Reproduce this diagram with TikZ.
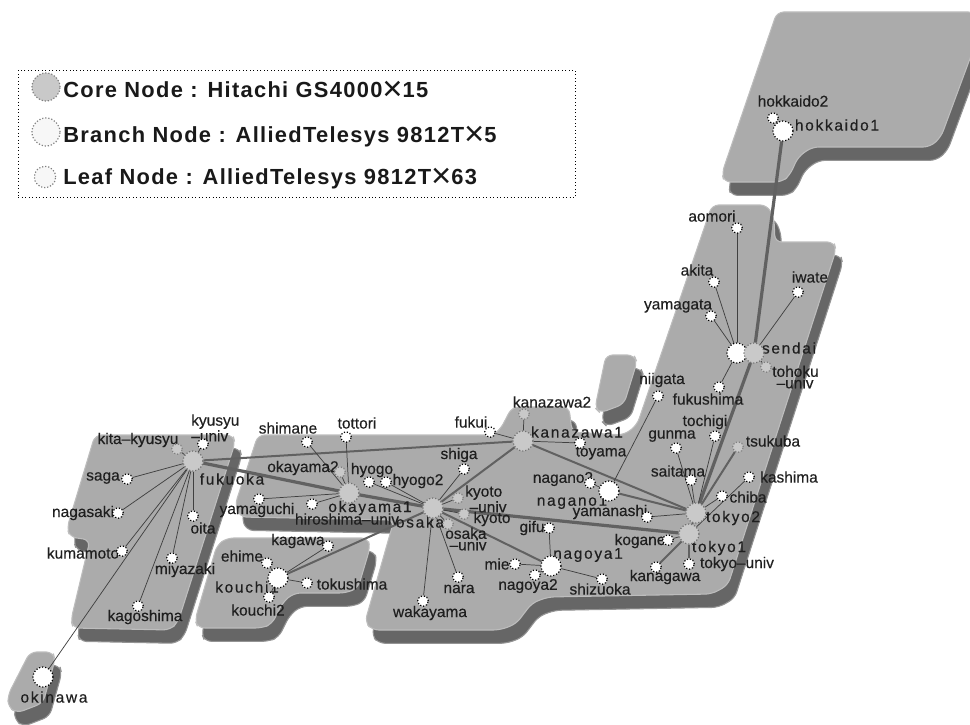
\documentclass[tikz,border=0pt]{standalone}
\usepackage{fontspec}
\setmainfont{Liberation Sans}
\newfontfamily\labfont[FakeBold=0.35]{Liberation Sans}
\newfontfamily\widefont[LetterSpace=11,FakeBold=0.35]{Liberation Sans}
\newfontfamily\legfont[LetterSpace=6]{Liberation Sans}
\newfontfamily\timesfont{Liberation Sans}
\pgfdeclarelayer{maplayer}
\pgfdeclarelayer{linklayer}
\pgfdeclarelayer{lablayer}
\pgfsetlayers{maplayer,linklayer,lablayer,main}
\definecolor{land}{gray}{0.67}
\definecolor{landedge}{gray}{0.74}
\definecolor{shade}{gray}{0.40}
\definecolor{linkc}{gray}{0.38}
\definecolor{corec}{gray}{0.79}
\newcommand{\bigtimes}{\raisebox{-2.6pt}[0pt][0pt]{\timesfont\mdseries\fontsize{26}{18}\selectfont ×}}
\tikzset{
  landp/.style={fill=land,draw=landedge,line width=0.8pt,rounded corners=5pt},
  shadep/.style={fill=shade,draw=shade!70!white,line width=0.8pt,rounded corners=5pt,xshift=5pt,yshift=-10pt},
  dotb/.style={draw=black,line width=0.9pt,dash pattern=on 0.9pt off 1.4pt,inner sep=0pt,circle},
  leafn/.style={dotb,fill=white,minimum size=8pt},
  gleafn/.style={dotb,draw=gray,fill=corec,minimum size=8pt},
  branchn/.style={dotb,fill=white,minimum size=15pt},
  coren/.style={dotb,draw=black!55,fill=corec,minimum size=15pt},
  lab/.style={font=\labfont\fontsize{11.6}{8.6}\selectfont,text=black!88,inner sep=0pt,align=left},
  wlab/.style={font=\widefont\fontsize{11.6}{8.6}\selectfont,text=black!88,inner sep=0pt},
  thinl/.style={draw=black!75,line width=0.55pt},
  medl/.style={draw=linkc,line width=1.5pt},
  thickl/.style={draw=linkc,line width=2.4pt},
  legt/.style={font=\legfont\bfseries\fontsize{16.4}{18}\selectfont,text=black!90,inner sep=0pt,anchor=base west},
}
\begin{document}
\begin{tikzpicture}[x=0.75pt,y=-0.75pt]
\useasboundingbox (0,0) rectangle (970,724);

% ---------- map
\begin{pgfonlayer}{maplayer}
\def\hokkaidoshape{(777,12) -- (975,12) -- (975,45) -- (941,137) -- (930,147) -- (812,147) -- (798,157) -- (790,175) -- (782,182) -- (724,182) -- (722,173) -- cycle}
\def\honshushape{(712,205) -- (767,205) -- (774,218) -- (775,242) -- (834,242) -- (836,250) -- (728,585) -- (712,594) -- (548,597) -- (532,603) -- (516,624) -- (500,630) -- (372,630) -- (365,622) -- (394,520) -- (240,517) -- (235,505) -- (258,435) -- (492,435) -- (500,430) -- (512,407) -- (569,407) -- (572,432) -- (624,435) -- (637,425) -- cycle}
\def\sadoshape{(606,355) -- (634,355) -- (637,362) -- (624,404) -- (600,413) -- (595,408) -- cycle}
\def\kyushushape{(95,435) -- (233,435) -- (235,443) -- (178,622) -- (170,630) -- (73,628) -- (71,620) -- (90,540) -- (70,537) -- (67,528) -- cycle}
\def\shikokushape{(227,538) -- (368,538) -- (370,548) -- (358,588) -- (346,593) -- (294,593) -- (283,602) -- (272,624) -- (262,628) -- (198,628) -- (195,620) -- (217,545) -- cycle}
\def\okinawashape{(30,652) -- (53,652) -- (55,660) -- (43,703) -- (17,713) -- (8,707) -- (8,695) -- cycle}
\foreach \s in {\hokkaidoshape,\honshushape,\sadoshape,\kyushushape,\shikokushape,\okinawashape}{
  \draw[shadep] \s;
}
\foreach \s in {\hokkaidoshape,\honshushape,\sadoshape,\kyushushape,\shikokushape,\okinawashape}{
  \draw[landp] \s;
}
\end{pgfonlayer}

% ---------- legend
\node[draw=black,line width=0.6pt,dotted,minimum width=417.75pt,minimum height=95.25pt,inner sep=0pt,anchor=north west] (legendbox) at (18,70) {};
\node[dotb,draw=gray,fill=corec,minimum size=21pt] (legcore) at (46,87) {};
\node[dotb,draw=gray,fill=black!3,minimum size=21pt] (legbranch) at (46,132) {};
\node[dotb,draw=gray,fill=black!3,minimum size=16pt] (legleaf) at (45,177) {};
\node[legt] (legt1) at (63,97) {Core Node : Hitachi GS4000\bigtimes15};
\node[legt] (legt2) at (63,142) {Branch Node : AlliedTelesys 9812T\bigtimes5};
\node[legt] (legt3) at (63,184) {Leaf Node : AlliedTelesys 9812T\bigtimes63};

% ---------- nodes
\node[branchn] (hokkaido1) at (783,131) {};
\node[leafn] (hokkaido2) at (773,118) {};
\node[leafn] (aomori) at (737,228) {};
\node[leafn] (akita) at (714,282) {};
\node[leafn] (yamagata) at (711,316) {};
\node[leafn] (iwate) at (798,292) {};
\node[branchn] (sendaib) at (737,353) {};
\node[coren] (sendai) at (754,353) {};
\node[gleafn] (tohoku) at (766,367) {};
\node[leafn] (fukushima) at (719,387) {};
\node[leafn] (niigata) at (658,396) {};
\node[leafn] (tochigi) at (715,436) {};
\node[leafn] (gunma) at (676,448) {};
\node[gleafn] (tsukuba) at (738,447) {};
\node[leafn] (saitama) at (691,480) {};
\node[leafn] (kashima) at (749,477) {};
\node[leafn] (chiba) at (722,496) {};
\node[coren] (tokyo2) at (696,513) {};
\node[coren] (tokyo1) at (689,534) {};
\node[leafn] (yamanashi) at (647,517) {};
\node[branchn] (nagano1) at (609,491) {};
\node[leafn] (nagano2) at (590,483) {};
\node[leafn] (kogane) at (668,540) {};
\node[leafn] (kanagawa) at (656,567) {};
\node[leafn] (tokyou) at (689,564) {};
\node[leafn] (shizuoka) at (602,579) {};
\node[gleafn] (kanazawa2) at (524,414) {};
\node[leafn] (fukui) at (490,432) {};
\node[coren] (kanazawa1) at (523,441) {};
\node[leafn] (toyama) at (580,443) {};
\node[leafn] (shiga) at (464,469) {};
\node[coren] (osaka) at (433,508) {};
\node[gleafn] (kyotou) at (458,498) {};
\node[gleafn] (kyoto) at (464,514) {};
\node[gleafn] (osakau) at (448,524) {};
\node[leafn] (nara) at (458,577) {};
\node[leafn] (wakayama) at (423,601) {};
\node[leafn] (gifu) at (549,528) {};
\node[branchn] (nagoya1) at (551,566) {};
\node[leafn] (mie) at (515,564) {};
\node[leafn] (nagoya2) at (535,575) {};
\node[leafn] (hyogo) at (369,482) {};
\node[leafn] (hyogo2) at (386,482) {};
\node[coren] (okayama1) at (349,493) {};
\node[leafn] (tottori) at (346,437) {};
\node[leafn] (shimane) at (307,442) {};
\node[gleafn] (okayama2) at (340,472) {};
\node[leafn] (yamaguchi) at (259,499) {};
\node[leafn] (hiroshima) at (312,504) {};
\node[coren] (fukuoka) at (193,461) {};
\node[gleafn] (kitakyusyu) at (177,449) {};
\node[leafn] (kyusyuu) at (203,444) {};
\node[leafn] (saga) at (127,479) {};
\node[leafn] (nagasaki) at (118,513) {};
\node[leafn] (kumamoto) at (122,551) {};
\node[leafn] (oita) at (193,516) {};
\node[leafn] (miyazaki) at (172,558) {};
\node[leafn] (kagoshima) at (138,606) {};
\node[branchn] (okinawa) at (43,677) {};
\node[leafn] (kagawa) at (328,546) {};
\node[leafn] (ehime) at (267,563) {};
\node[branchn] (kouchi1) at (278,578) {};
\node[leafn] (tokushima) at (307,583) {};
\node[leafn] (kouchi2) at (269,597) {};

% ---------- connectors
\begin{pgfonlayer}{linklayer}
\draw[thickl] (sendai) -- (hokkaido1);
\draw[thickl] (sendai) -- (tokyo2);
\draw[thickl] (fukuoka) -- (okayama1);
\draw[thickl] (okayama1) -- (osaka);
\draw[thickl] (osaka) -- (tokyo1);
\draw[medl] (tsukuba) -- (tokyo2);
\draw[medl] (fukuoka) -- (kanazawa1);
\draw[medl] (osaka) -- (kanazawa1);
\draw[medl] (kanazawa1) -- (tokyo2);
\draw[medl] (osaka) -- (nagoya1);
\draw[medl] (nagano1) -- (tokyo2);
\draw[medl] (osaka) -- (kouchi1);
\draw[medl] (tokyo1) -- (tokyo2);
\draw[medl] (tokyo1) -- (tokyou);
\draw[medl] (tokyo1) -- (kanagawa);
\foreach \a/\b in {hokkaido1/hokkaido2,sendaib/aomori,sendaib/akita,sendaib/yamagata,sendaib/fukushima,sendaib/sendai,sendai/iwate,sendai/tohoku,
  niigata/nagano1,nagano1/nagano2,tokyo2/tochigi,tokyo2/gunma,tokyo2/saitama,tokyo2/chiba,tokyo2/yamanashi,tokyo1/kashima,tokyo1/kogane,
  nagoya1/gifu,nagoya1/mie,nagoya1/nagoya2,nagoya1/shizuoka,kanazawa1/kanazawa2,kanazawa1/fukui,kanazawa1/toyama,
  osaka/shiga,osaka/kyotou,osaka/kyoto,osaka/osakau,osaka/nara,osaka/wakayama,osaka/hyogo,osaka/hyogo2,
  okayama1/okayama2,okayama1/tottori,okayama1/shimane,okayama1/yamaguchi,okayama1/hiroshima,
  fukuoka/kitakyusyu,fukuoka/kyusyuu,fukuoka/saga,fukuoka/nagasaki,fukuoka/kumamoto,fukuoka/oita,fukuoka/miyazaki,fukuoka/kagoshima,fukuoka/okinawa,
  kouchi1/kagawa,kouchi1/ehime,kouchi1/tokushima,kouchi1/kouchi2}{
  \draw[thinl] (\a) -- (\b);
}
\end{pgfonlayer}

% ---------- labels
\begin{pgfonlayer}{lablayer}
\node[lab] (t01) at (793,101) {hokkaido2};
\node[wlab] (t02) at (837,125) {hokkaido1};
\node[lab] (t03) at (712,216) {aomori};
\node[lab] (t04) at (697,270) {akita};
\node[lab] (t05) at (678,306) {yamagata};
\node[lab] (t06) at (810,277) {iwate};
\node[wlab] (t07) at (789,348) {sendai};
\node[lab,anchor=west] (t08) at (772,377) {tohoku\\\ –univ};
\node[lab] (t09) at (662,380) {niigata};
\node[lab] (t10) at (708,399) {fukushima};
\node[lab] (t11) at (705,422) {tochigi};
\node[lab] (t12) at (672,436) {gunma};
\node[lab] (t13) at (773,441) {tsukuba};
\node[lab] (t14) at (678,471) {saitama};
\node[lab] (t15) at (789,477) {kashima};
\node[lab] (t16) at (748,497) {chiba};
\node[wlab] (t17) at (733,518) {tokyo2};
\node[wlab] (t18) at (719,548) {tokyo1};
\node[lab] (t19) at (610,512) {yamanashi};
\node[lab] (t20) at (640,541) {kogane};
\node[lab] (t21) at (737,564) {tokyo–univ};
\node[lab] (t22) at (665,577) {kanagawa};
\node[lab] (t23) at (600,589) {shizuoka};
\node[wlab] (t24) at (588,555) {nagoya1};
\node[lab] (t25) at (528,586) {nagoya2};
\node[lab] (t26) at (497,564) {mie};
\node[lab] (t27) at (532,528) {gifu};
\node[lab] (t28) at (459,589) {nara};
\node[lab] (t29) at (430,613) {wakayama};
\node[wlab] (t30) at (420,522) {osaka};
\node[lab,anchor=west] (t31) at (445,539) {osaka\\\ –univ};
\node[lab] (t32) at (492,519) {kyoto};
\node[lab,anchor=west] (t33) at (465,499) {kyoto\\\ –univ};
\node[lab] (t34) at (459,455) {shiga};
\node[wlab] (t35) at (572,502) {nagano1};
\node[lab] (t36) at (563,479) {nagano2};
\node[lab] (t37) at (601,453) {toyama};
\node[wlab] (t38) at (577,432) {kanazawa1};
\node[lab] (t39) at (552,402) {kanazawa2};
\node[lab] (t40) at (471,422) {fukui};
\node[lab] (t41) at (372,470) {hyogo};
\node[lab] (t42) at (418,481) {hyogo2};
\node[lab] (t43) at (357,423) {tottori};
\node[lab] (t44) at (288,428) {shimane};
\node[lab] (t45) at (303,468) {okayama2};
\node[wlab] (t46) at (370,508) {okayama1};
\node[lab] (t47) at (257,510) {yamaguchi};
\node[lab] (t48) at (347,519) {hiroshima–univ};
\node[wlab] (t49) at (232,479) {fukuoka};
\node[lab] (t50) at (138,440) {kita–kyusyu};
\node[lab,anchor=west] (t51) at (191,428) {kyusyu\\–univ};
\node[lab] (t52) at (103,478) {saga};
\node[lab] (t53) at (83,513) {nagasaki};
\node[lab] (t54) at (83,553) {kumamoto};
\node[lab] (t55) at (203,528) {oita};
\node[lab] (t56) at (185,570) {miyazaki};
\node[lab] (t57) at (145,617) {kagoshima};
\node[wlab] (t58) at (54,697) {okinawa};
\node[lab] (t59) at (298,541) {kagawa};
\node[lab] (t60) at (242,556) {ehime};
\node[wlab] (t61) at (247,587) {kouchi1};
\node[lab] (t62) at (352,584) {tokushima};
\node[lab] (t63) at (258,610) {kouchi2};
\end{pgfonlayer}
\end{tikzpicture}
\end{document}
